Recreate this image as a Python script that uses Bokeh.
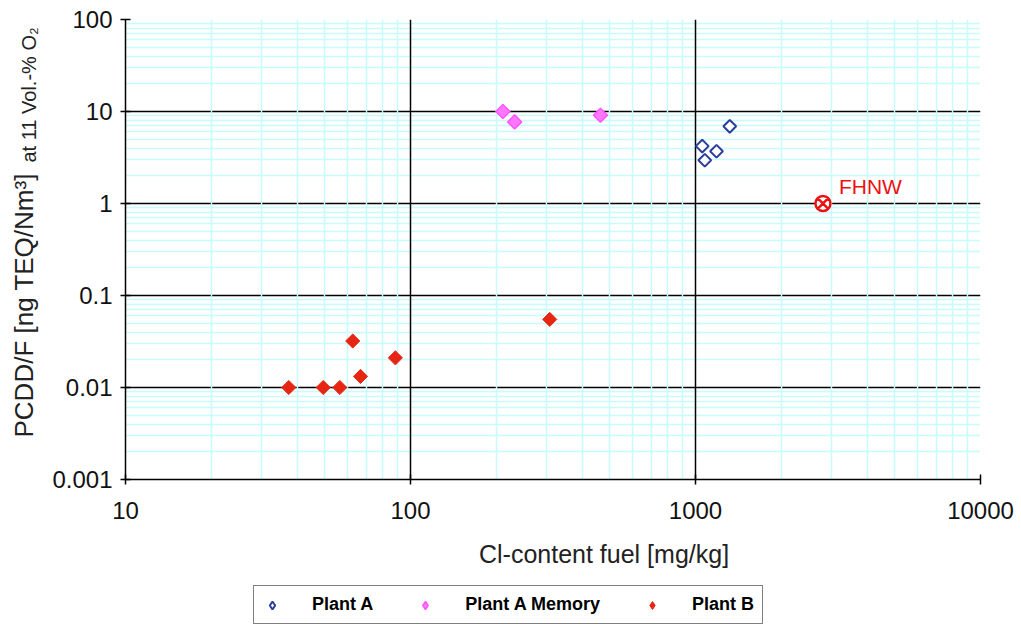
import numpy as np
from bokeh.plotting import figure
from bokeh.layouts import row, column
from bokeh.models import FixedTicker, Label, Legend, LegendItem, Range1d
from bokeh.core.properties import value
from bokeh.embed import file_html
from bokeh.resources import INLINE

# ---- data ----
plant_a_x = [1056, 1078, 1185, 1319]
plant_a_y = [4.2, 2.95, 3.7, 6.9]
memory_x = [211, 232, 464]
memory_y = [10.0, 7.7, 9.1]
plant_b_x = [37.4, 49.4, 56.5, 62.7, 66.8, 88.5, 308]
plant_b_y = [0.010, 0.010, 0.010, 0.032, 0.0132, 0.021, 0.055]
fhnw_x = [2800]
fhnw_y = [1.0]
fhnw_label = "FHNW"

x_major = [10, 100, 1000, 10000]
y_major = [0.001, 0.01, 0.1, 1, 10, 100]
x_tick_labels = ["10", "100", "1000", "10000"]
y_tick_labels = ["0.001", "0.01", "0.1", "1", "10", "100"]

x_label = "Cl-content fuel  [mg/kg]"
y_label_main = "PCDD/F  [ng TEQ/Nm\u00b3]"
y_label_sub = "at 11 Vol.-% O\u2082"
series_names = ["Plant A", "Plant A Memory", "Plant B"]

FONT = "Liberation Sans"
W, H = 1021, 626
LEFT_W = 40          # strip holding the y title
TOP_H = 530          # height of the chart row
F_L, F_R, F_T, F_B = 125, 980, 19, 479   # plot frame in page pixels

COL_A, FILL_A = "#2a3e9c", "white"
COL_M, FILL_M = "#ff55ff", "#ff77ff"
COL_B = "#e62612"

def strip(width, height, xr, yr, **borders):
    f = figure(width=width, height=height, x_range=xr, y_range=yr,
               x_axis_location=None, y_axis_location=None,
               output_backend="svg", toolbar_location=None,
               background_fill_color="white", border_fill_color="white",
               outline_line_color=None, **borders)
    f.grid.visible = False
    return f

# ---- strip carrying the y-axis title (data units = page pixels) ----
lab = strip(LEFT_W, TOP_H, Range1d(0, LEFT_W), Range1d(F_B, F_T),
            min_border_left=0, min_border_right=0,
            min_border_top=F_T, min_border_bottom=TOP_H - F_B)
lab.text(x=[23], y=[437], text=[y_label_main], angle=np.pi / 2,
         text_font=value(FONT), text_font_size="26px", text_color="#222222",
         text_align="left", text_baseline="middle")
lab.text(x=[28.5], y=[162], text=[y_label_sub], angle=np.pi / 2,
         text_font=value(FONT), text_font_size="20px", text_color="#222222",
         text_align="left", text_baseline="middle")

# ---- main chart ----
p = figure(width=W - LEFT_W, height=TOP_H, x_axis_type="log", y_axis_type="log",
           x_range=(10, 10000), y_range=(0.001, 100),
           min_border_left=F_L - LEFT_W, min_border_right=W - F_R,
           min_border_top=F_T, min_border_bottom=TOP_H - F_B,
           output_backend="svg", toolbar_location=None,
           background_fill_color="white", border_fill_color="white")

def minors(majors):
    out = []
    for m in majors[:-1]:
        out += [m * k for k in range(2, 10)]
    return out

p.xaxis.ticker = FixedTicker(ticks=x_major, minor_ticks=minors(x_major))
p.yaxis.ticker = FixedTicker(ticks=y_major, minor_ticks=minors(y_major))
p.xaxis.major_label_overrides = {v: s for v, s in zip(x_major, x_tick_labels)}
p.yaxis.major_label_overrides = {v: s for v, s in zip(y_major, y_tick_labels)}

for ax in (p.xaxis, p.yaxis):
    ax.axis_line_color = "black"
    ax.axis_line_width = 1.5
    ax.major_tick_line_color = "black"
    ax.major_tick_line_width = 1.5
    ax.major_tick_in = 5
    ax.major_tick_out = 5
    ax.minor_tick_in = 0
    ax.minor_tick_out = 0
    ax.major_label_text_font = FONT
    ax.major_label_text_font_size = "24px"
    ax.major_label_text_color = "#111111"
p.xaxis.major_label_standoff = 17
p.yaxis.major_label_standoff = 8

for g in (p.xgrid, p.ygrid):
    g.grid_line_color = "black"
    g.grid_line_width = 1.5
    g.minor_grid_line_color = "#c8fbfb"
    g.minor_grid_line_width = 1.5
# horizontal grid first, so the vertical cyan lines cross the black horizontal ones
p.center = [p.ygrid[0], p.xgrid[0]]
p.outline_line_color = None

p.scatter(plant_a_x, plant_a_y, marker="square", angle=np.pi / 4, size=9,
          fill_color=FILL_A, line_color=COL_A, line_width=2)
p.scatter(memory_x, memory_y, marker="square", angle=np.pi / 4, size=10,
          fill_color=FILL_M, line_color=COL_M, line_width=1.5)
p.scatter(plant_b_x, plant_b_y, marker="square", angle=np.pi / 4, size=10,
          fill_color=COL_B, line_color=COL_B, line_width=1)
p.scatter(fhnw_x, fhnw_y, marker="circle_x", size=15, fill_color="white",
          line_color="#ee1111", line_width=2.5)
p.add_layout(Label(x=fhnw_x[0], y=fhnw_y[0], text=fhnw_label, x_offset=16,
                   y_offset=6, text_font=FONT, text_font_size="21px",
                   text_color="#ee1111", text_baseline="bottom"))

# ---- bottom strip: x-axis title and legend (data units = page pixels) ----
bot = strip(W, H - TOP_H, Range1d(F_L, F_R), Range1d(H, TOP_H),
            min_border_left=F_L, min_border_right=W - F_R,
            min_border_top=0, min_border_bottom=0)
bot.text(x=[607], y=[553], text=[x_label], text_font=value(FONT),
         text_font_size="25px", text_color="#222222", text_align="center",
         text_baseline="middle")
# legend keys: the series drawn on an off-screen range, so only their keys show
bot.extra_x_ranges = {"off": Range1d(-2, -1)}
bot.extra_y_ranges = {"off": Range1d(-2, -1)}
off = dict(x_range_name="off", y_range_name="off", marker="diamond", size=14)
ra = bot.scatter(plant_a_x, plant_a_y, fill_color=FILL_A, line_color=COL_A,
                 line_width=2, **off)
rm = bot.scatter(memory_x, memory_y, fill_color=FILL_M, line_color=COL_M,
                 line_width=1.5, **off)
rb = bot.scatter(plant_b_x, plant_b_y, fill_color=COL_B, line_color=COL_B,
                 line_width=1, **off)
legend = Legend(items=[LegendItem(label=series_names[0], renderers=[ra]),
                       LegendItem(label=series_names[1], renderers=[rm]),
                       LegendItem(label=series_names[2], renderers=[rb])],
                orientation="horizontal", location=(253 - F_L, 2),
                label_text_font=FONT, label_text_font_style="bold",
                label_text_font_size="18px", label_text_color="black",
                border_line_color="black", border_line_width=1.5,
                padding=8, spacing=42, label_standoff=30, glyph_width=20,
                glyph_height=20, label_height=20, margin=0,
                background_fill_color="white", background_fill_alpha=1)
bot.add_layout(legend, "center")

layout = column(row(lab, p, spacing=0), bot, spacing=0)
open("out.html", "w").write(file_html(layout, INLINE))
